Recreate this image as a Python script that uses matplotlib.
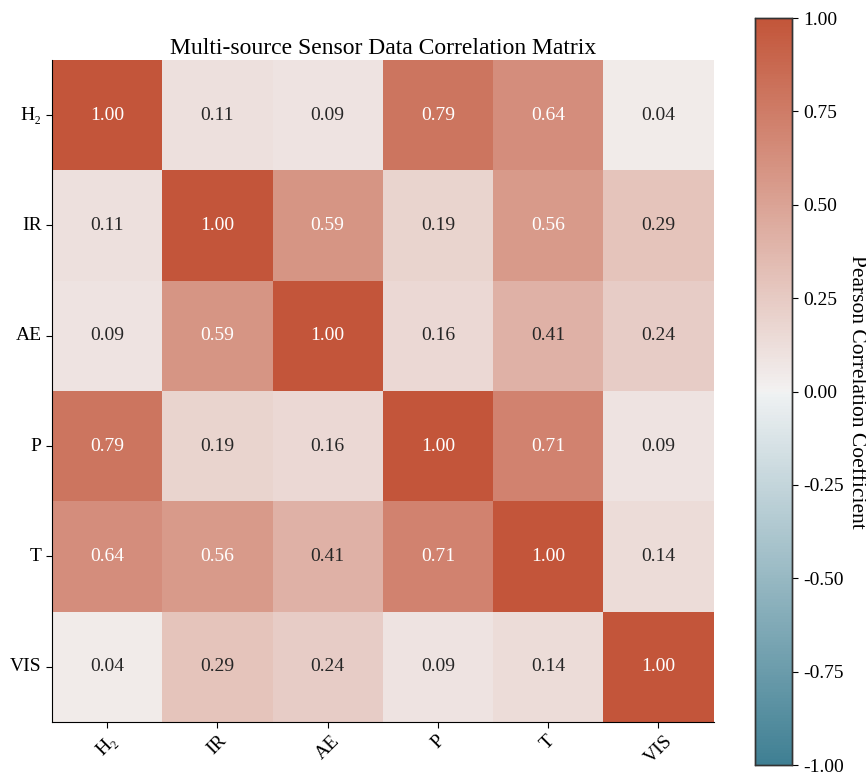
import numpy as np
import matplotlib
matplotlib.use("Agg")
import matplotlib.pyplot as plt
import seaborn as sns

# 데이터
sensors = ["H\u2082", "IR", "AE", "P", "T", "VIS"]
corr = np.array([
    [1.00, 0.11, 0.09, 0.79, 0.64, 0.04],
    [0.11, 1.00, 0.59, 0.19, 0.56, 0.29],
    [0.09, 0.59, 1.00, 0.16, 0.41, 0.24],
    [0.79, 0.19, 0.16, 1.00, 0.71, 0.09],
    [0.64, 0.56, 0.41, 0.71, 1.00, 0.14],
    [0.04, 0.29, 0.24, 0.09, 0.14, 1.00],
])
cbar_ticks = [-1.00, -0.75, -0.50, -0.25, 0.00, 0.25, 0.50, 0.75, 1.00]

plt.rcParams["font.family"] = ["Liberation Serif", "DejaVu Serif"]

fig = plt.figure(figsize=(8.66, 7.78), dpi=100)
ax = fig.add_axes([0.060, 0.072, 0.764, 0.851])
cax = fig.add_axes([0.872, 0.0167, 0.043, 0.960])

cmap = sns.diverging_palette(220, 20, as_cmap=True)
sns.heatmap(corr, ax=ax, cbar_ax=cax, cmap=cmap, vmin=-1, vmax=1,
            annot=True, fmt=".2f", annot_kws={"size": 14},
            xticklabels=sensors, yticklabels=sensors,
            cbar_kws={"ticks": cbar_ticks, "format": "%.2f"})

# 축 꾸미기
ax.set_title("Multi-source Sensor Data Correlation Matrix", fontsize=17, pad=4)
ax.tick_params(axis="both", labelsize=14, length=4)
plt.setp(ax.get_xticklabels(), rotation=45, ha="center")
plt.setp(ax.get_yticklabels(), rotation=0)
for side in ["left", "bottom"]:
    ax.spines[side].set_visible(True)
    ax.spines[side].set_color("black")

cax.tick_params(labelsize=14, length=4)
cax.set_ylabel("Pearson Correlation Coefficient", fontsize=15.5, rotation=270, labelpad=16)
for s in cax.spines.values():
    s.set_visible(True)
    s.set_color("#333333")
    s.set_linewidth(1.0)

fig.savefig("out.png", dpi=100)
